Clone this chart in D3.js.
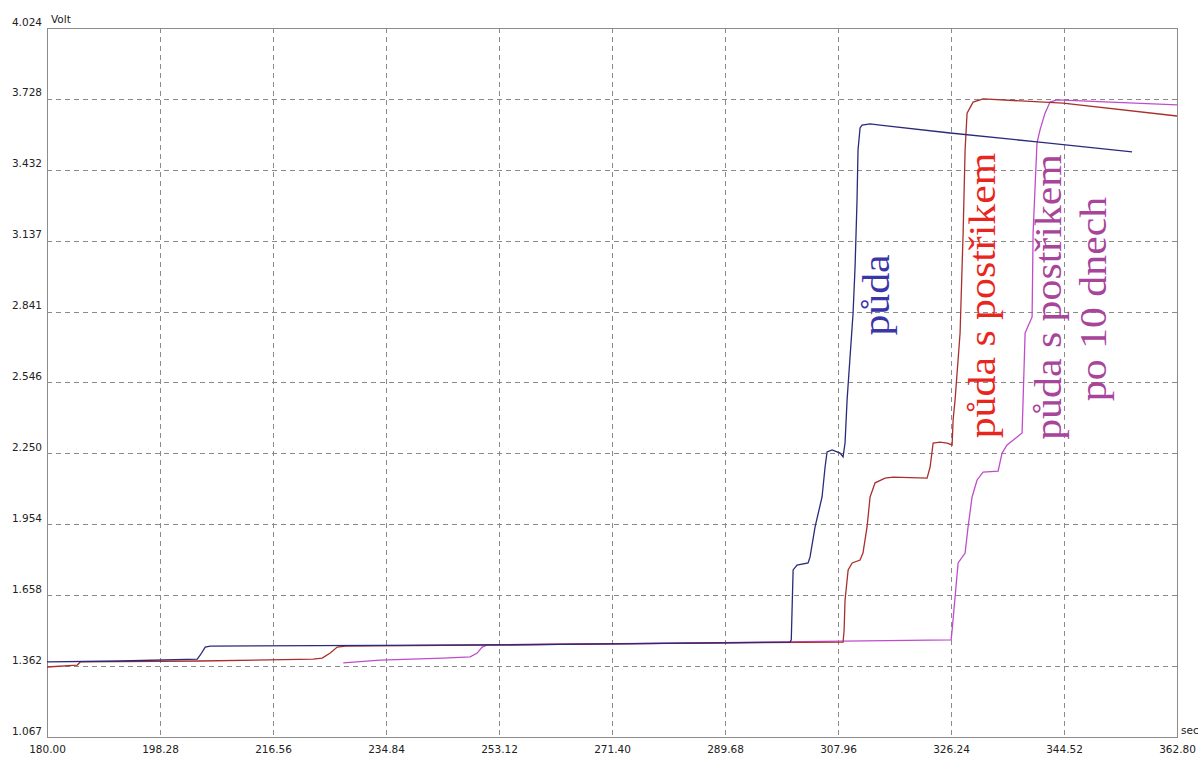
<!DOCTYPE html>
<html>
<head>
<meta charset="utf-8">
<script src="https://cdn.jsdelivr.net/npm/d3@7"></script>
<style>
  body { margin: 0; background: #fff; }
  svg { display: block; }
  .tick text { font-family: "DejaVu Sans", Verdana, sans-serif; font-size: 10.5px; fill: #222; }
</style>
</head>
<body>
<svg class="chart"></svg>
<script>
// tick labels as printed by the logger software
var xTicks = ["180.00","198.28","216.56","234.84","253.12","271.40","289.68","307.96","326.24","344.52","362.80"];
var yTicks = ["1.067","1.362","1.658","1.954","2.250","2.546","2.841","3.137","3.432","3.728","4.024"];

// půda  [sec, Volt]
var puda = [
  [180,1.380],[191.85,1.384],[204.31,1.392],[204.8,1.409],[205.6,1.442],[206.41,1.446],
  [253.31,1.451],[300.2,1.463],[300.4,1.472],[300.7,1.764],[301.34,1.784],[303.12,1.793],
  [303.44,1.818],[304.25,1.943],[305.38,2.068],[305.87,2.193],[306.19,2.256],[307.0,2.264],
  [308.3,2.251],[308.78,2.235],[309.1,2.293],[309.43,2.473],[310.4,2.835],[310.72,3.027],
  [311.04,3.307],[311.2,3.515],[311.53,3.607],[311.85,3.619],[313.15,3.624],[314.77,3.619],
  [326.09,3.586],[340.15,3.549],[355.53,3.507]
];

// půda s postřikem
var pudaPostrik = [
  [180,1.359],[184.9,1.367],[185.39,1.380],[204.8,1.384],[223.07,1.392],[224.52,1.396],
  [225.82,1.417],[226.95,1.442],[228.24,1.446],[269.48,1.455],[308.78,1.463],[308.95,1.513],
  [309.1,1.638],[309.6,1.764],[310.25,1.793],[311.53,1.805],[312.0,1.834],[312.66,1.943],
  [313.15,2.068],[313.96,2.127],[315.58,2.147],[316.87,2.151],[322.37,2.147],[322.86,2.193],
  [323.35,2.293],[324.48,2.297],[325.61,2.293],[326.42,2.285],[326.58,2.389],[326.9,2.473],
  [327.71,2.752],[328.2,3.169],[328.52,3.515],[328.84,3.669],[329.81,3.715],[331.43,3.728],
  [344.37,3.711],[362.8,3.657]
];

// půda s postřikem po 10 dnech
var pudaPo10 = [
  [227.92,1.376],[233.9,1.388],[244.09,1.396],[248.46,1.401],[249.59,1.417],[250.4,1.442],
  [251.21,1.451],[285.66,1.459],[308.78,1.467],[326.26,1.472],[326.42,1.513],[326.9,1.651],
  [327.39,1.793],[328.52,1.834],[329.0,1.943],[329.65,2.068],[330.46,2.139],[331.43,2.172],
  [333.86,2.176],[334.5,2.251],[335.31,2.285],[336.93,2.318],[337.74,2.335],[338.23,2.752],
  [339.36,2.819],[339.52,3.169],[340.15,3.544],[340.64,3.599],[341.45,3.669],[342.26,3.715],
  [343.39,3.724],[362.8,3.703]
];

var width = 1198, height = 758;
var plotL = 47, plotR = 1177, plotT = 28, plotB = 737;

var svg = d3.select(".chart").attr("width", width).attr("height", height);

var x = d3.scaleLinear().domain([+xTicks[0], +xTicks[xTicks.length-1]]).range([plotL, plotR]);
var y = d3.scaleLinear().domain([+yTicks[0], +yTicks[yTicks.length-1]]).range([plotB, plotT]);

// grid
var grid = svg.append("g").attr("stroke", "#8a8a8a").attr("stroke-dasharray", "5,4").attr("shape-rendering", "crispEdges");
grid.selectAll("line.v")
   .data(xTicks.slice(1, -1))
   .enter().append("line")
   .attr("x1", function(d){ return Math.round(x(+d)) + 0.5; })
   .attr("x2", function(d){ return Math.round(x(+d)) + 0.5; })
   .attr("y1", plotT).attr("y2", plotB);
grid.selectAll("line.h")
   .data(yTicks.slice(1, -1))
   .enter().append("line")
   .attr("y1", function(d){ return Math.round(y(+d)) + 0.5; })
   .attr("y2", function(d){ return Math.round(y(+d)) + 0.5; })
   .attr("x1", plotL).attr("x2", plotR);

// frame
svg.append("rect")
   .attr("x", plotL + 0.5).attr("y", plotT + 0.5)
   .attr("width", plotR - plotL).attr("height", plotB - plotT)
   .attr("fill", "none").attr("stroke", "#8c8c8c").attr("shape-rendering", "crispEdges");

// axes
var yAxis = svg.append("g")
   .attr("transform", "translate(" + plotL + ",0)")
   .call(d3.axisLeft(y).tickValues(yTicks.map(Number)).tickSize(0).tickPadding(5)
         .tickFormat(function(d, i){ return yTicks[i]; }));
yAxis.select(".domain").remove();
yAxis.selectAll("text").attr("y", -3).attr("dy", 0);

var xAxis = svg.append("g")
   .attr("transform", "translate(0," + plotB + ")")
   .call(d3.axisBottom(x).tickValues(xTicks.map(Number)).tickSize(0).tickPadding(9)
         .tickFormat(function(d, i){ return xTicks[i]; }));
xAxis.select(".domain").remove();

svg.append("text").text("Volt")
   .attr("x", 51).attr("y", 23)
   .attr("font-family", "'DejaVu Sans', Verdana, sans-serif").attr("font-size", 10.5).attr("fill", "#222");
svg.append("text").text("sec")
   .attr("x", 1181).attr("y", 734)
   .attr("font-family", "'DejaVu Sans', Verdana, sans-serif").attr("font-size", 10.5).attr("fill", "#222");

// lines
var line = d3.line().x(function(d){ return x(d[0]); }).y(function(d){ return y(d[1]); });
var series = [
  {data: pudaPo10, color: "#c04ccc"},
  {data: pudaPostrik, color: "#a8302c"},
  {data: puda, color: "#2a2a7c"}
];
svg.selectAll("path.series")
   .data(series)
   .enter().append("path")
   .attr("class", "series")
   .attr("d", function(d){ return line(d.data); })
   .attr("fill", "none")
   .attr("stroke", function(d){ return d.color; })
   .attr("stroke-width", 1.3);

// rotated labels
var labels = [
  {text: "půda", x: 889, y: 295, color: "#3a36a8"},
  {text: "půda s postřikem", x: 995, y: 295.5, color: "#e8261e"},
  {text: "půda s postřikem", x: 1061, y: 297, color: "#a8449a"},
  {text: "po 10 dnech", x: 1106, y: 299, color: "#a8449a"}
];
svg.selectAll("text.lab")
   .data(labels)
   .enter().append("text")
   .attr("class", "lab")
   .text(function(d){ return d.text; })
   .attr("transform", function(d){ return "translate(" + d.x + "," + d.y + ") rotate(-90) scale(1.1,1)"; })
   .attr("text-anchor", "middle")
   .attr("font-family", "'Liberation Serif', 'Times New Roman', serif")
   .attr("font-size", 38)
   .attr("fill", function(d){ return d.color; });
</script>
</body>
</html>
